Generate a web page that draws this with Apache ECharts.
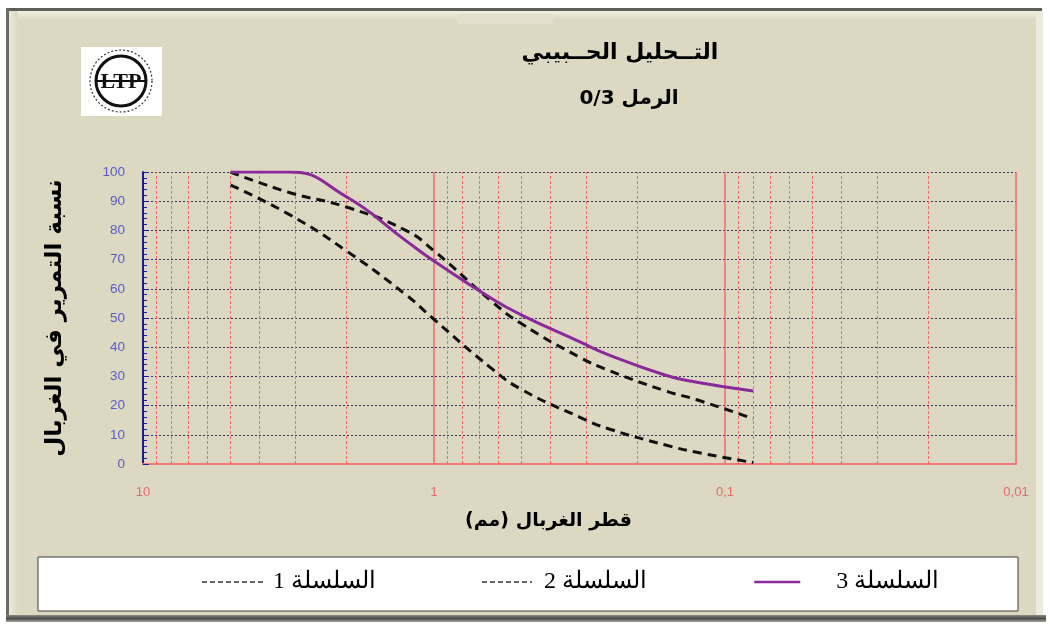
<!DOCTYPE html>
<html>
<head>
<meta charset="utf-8">
<script src="https://cdn.jsdelivr.net/npm/echarts@6/dist/echarts.min.js"></script>
<style>
  html, body { margin: 0; padding: 0; background: #ffffff; }
  #chart { width: 1050px; height: 628px; }
</style>
</head>
<body>
<div id="chart"></div>
<script>
// Sieve openings (mm) and cumulative passing (%) for the three test series
const sieveSizes = [5, 3.15, 2, 1.25, 1, 0.63, 0.5, 0.315, 0.25, 0.16, 0.125, 0.08];
const series1 = [95.5, 85.5, 73, 58, 49.5, 32.5, 25.5, 16, 12, 6.5, 4, 0.5];
const series2 = [100, 93, 88, 80, 73, 55.5, 48, 36.5, 32, 25, 22, 15.5];
const series3 = [100, 100, 91.5, 76.5, 69.5, 56.5, 51, 41.8, 37.3, 30.4, 28, 25];
const seriesNames = ['السلسلة 1', 'السلسلة 2', 'السلسلة 3'];
const yTicks = { min: 0, max: 100, step: 10 };

// intermediate log grid lines: 2..9 within each decade
const minorGrid = [];
[1, 0.1, 0.01].forEach(function (dec) {
  for (let k = 9; k >= 2; k--) minorGrid.push(+(k * dec).toPrecision(3));
});

const pairs = arr => sieveSizes.map((d, i) => [d, arr[i]]);

const beige = '#dcd8c2';
const arabicBold = "'DejaVu Sans', sans-serif";
const legendFont = "'Liberation Serif', 'DejaVu Serif', serif";

// one legend block per series so each entry sits in its own slot of the box
function legendBlock(name, left, iconWidth, textGap, lineStyle) {
  return {
    data: [{ name: name, lineStyle: lineStyle, itemStyle: { opacity: 0 } }],
    left: left, top: 565,
    itemWidth: iconWidth, itemHeight: 14,
    textStyle: { fontFamily: legendFont, fontSize: 24, color: '#000', padding: [0, 0, 0, textGap] }
  };
}

const chart = echarts.init(document.getElementById('chart'), null, { renderer: 'canvas' });

chart.setOption({
  backgroundColor: '#ffffff',
  animation: false,
  title: [
    {
      text: 'التــحليل الحــبيبي',
      left: 615, top: 37, textAlign: 'center',
      textStyle: { fontFamily: arabicBold, fontWeight: 'bold', fontSize: 22, color: '#000' }
    },
    {
      text: 'الرمل 0/3',
      left: 624, top: 84, textAlign: 'center',
      textStyle: { fontFamily: arabicBold, fontWeight: 'bold', fontSize: 20, color: '#000' }
    }
  ],
  graphic: [
    // window panel and bevelled frame
    { type: 'rect', z: -10, shape: { x: 8, y: 9, width: 1033, height: 610 }, style: { fill: beige } },
    { type: 'rect', z: -9, shape: { x: 6, y: 8, width: 1036, height: 3 }, style: { fill: '#5e5e5a' } },
    { type: 'rect', z: -9, shape: { x: 6, y: 8, width: 3, height: 612 }, style: { fill: '#6a6a66' } },
    { type: 'rect', z: -9, shape: { x: 9, y: 11, width: 1030, height: 9 },
      style: { fill: new echarts.graphic.LinearGradient(0, 0, 0, 1, [
        { offset: 0, color: '#f3f1e4' }, { offset: 1, color: beige }]) } },
    { type: 'rect', z: -9, shape: { x: 9, y: 11, width: 9, height: 604 },
      style: { fill: new echarts.graphic.LinearGradient(0, 0, 1, 0, [
        { offset: 0, color: '#ebe8d8' }, { offset: 1, color: beige }]) } },
    { type: 'rect', z: -9, shape: { x: 458, y: 14, width: 95, height: 10 }, style: { fill: '#e2dfcc' } },
    { type: 'rect', z: -9, shape: { x: 1036, y: 11, width: 7, height: 606 }, style: { fill: '#ecebdd' } },
    { type: 'rect', z: -9, shape: { x: 6, y: 615, width: 1040, height: 7 },
      style: { fill: new echarts.graphic.LinearGradient(0, 0, 0, 1, [
        { offset: 0, color: '#8c8a80' }, { offset: 0.5, color: '#4a4a48' }, { offset: 1, color: '#a8a79c' }]) } },
    // legend box
    { type: 'rect', z: -5, shape: { x: 38, y: 557, width: 980, height: 54 },
      style: { fill: '#ffffff', stroke: '#3c3c3c', lineWidth: 1 } },
    // laboratory emblem
    {
      type: 'group', x: 81, y: 47, z: 10,
      children: [
        { type: 'rect', shape: { x: 0, y: 0, width: 81, height: 69 }, style: { fill: '#ffffff' } },
        { type: 'circle', shape: { cx: 40, cy: 34, r: 31 }, style: { fill: 'none', stroke: '#333', lineWidth: 1.2, lineDash: [2, 2] } },
        { type: 'circle', shape: { cx: 40, cy: 34, r: 25 }, style: { fill: 'none', stroke: '#111', lineWidth: 3 } },
        { type: 'line', shape: { x1: 15, y1: 34, x2: 65, y2: 34 }, style: { stroke: '#111', lineWidth: 2 } },
        { type: 'text', style: { x: 40, y: 35, text: 'LTP', align: 'center', verticalAlign: 'middle',
          font: "bold 22px 'Liberation Serif', serif", fill: '#111' } }
      ]
    }
  ],
  legend: [
    legendBlock(seriesNames[0], 196, 62, 4, { width: 2, type: [5, 3], color: '#666' }),
    legendBlock(seriesNames[1], 476, 50, 7, { width: 2, type: [5, 3], color: '#666' }),
    legendBlock(seriesNames[2], 748, 46, 31, { width: 2.5, color: '#8a2a9a' })
  ],
  grid: { left: 143, right: 34, top: 172, bottom: 164 },
  xAxis: {
    type: 'log',
    logBase: 10,
    min: 0.01,
    max: 10,
    inverse: true,
    name: 'قطر الغربال (مم)',
    nameLocation: 'middle',
    nameGap: 48,
    nameTextStyle: { fontFamily: arabicBold, fontWeight: 'bold', fontSize: 19, color: '#000', padding: [0, 62, 0, 0] },
    axisLine: { show: true, onZero: false, lineStyle: { color: '#f07a7a', width: 2 } },
    axisTick: { show: false },
    axisLabel: {
      color: '#e06c6c', fontSize: 13, fontFamily: "'Liberation Sans', Arial, sans-serif", margin: 22,
      formatter: v => String(+v.toPrecision(3)).replace('.', ',')
    },
    splitLine: { show: true, lineStyle: { color: '#f26868', width: 1.5, type: 'solid' } }
  },
  yAxis: {
    type: 'value',
    min: yTicks.min, max: yTicks.max, interval: yTicks.step,
    name: 'نسبة التمرير في الغربال',
    nameLocation: 'middle',
    nameGap: 76,
    nameTextStyle: { fontFamily: arabicBold, fontWeight: 'bold', fontSize: 23, color: '#000' },
    axisLine: { show: true, lineStyle: { color: '#1c1c8e', width: 2 } },
    axisTick: { show: true, inside: true, length: 6, lineStyle: { color: '#1c1c8e', width: 1 } },
    minorTick: { show: true, splitNumber: 5, length: 4, lineStyle: { color: '#1c1c8e', width: 1 } },
    axisLabel: { color: '#5a5ac8', fontSize: 13.5, fontFamily: "'Liberation Sans', Arial, sans-serif", margin: 18 },
    splitLine: { show: true, lineStyle: { color: '#33335e', width: 1, type: [2, 2] } }
  },
  series: [
    {
      name: seriesNames[0], type: 'line', data: pairs(series1),
      smooth: 0.5, symbol: 'none', z: 3,
      lineStyle: { color: '#111', width: 3, type: [9, 6] },
      itemStyle: { color: '#111' },
      markLine: {
        silent: true, symbol: 'none', label: { show: false }, z: 1,
        lineStyle: { color: '#f06a6a', width: 1, type: [3, 2] },
        data: minorGrid.map(v => ({ xAxis: v }))
      }
    },
    {
      name: seriesNames[1], type: 'line', data: pairs(series2),
      smooth: 0.5, symbol: 'none', z: 3,
      lineStyle: { color: '#111', width: 3, type: [9, 6] },
      itemStyle: { color: '#111' }
    },
    {
      name: seriesNames[2], type: 'line', data: pairs(series3),
      smooth: 0.5, symbol: 'none', z: 4,
      lineStyle: { color: '#8a2a9a', width: 3 },
      itemStyle: { color: '#8a2a9a' }
    }
  ]
});
</script>
</body>
</html>
